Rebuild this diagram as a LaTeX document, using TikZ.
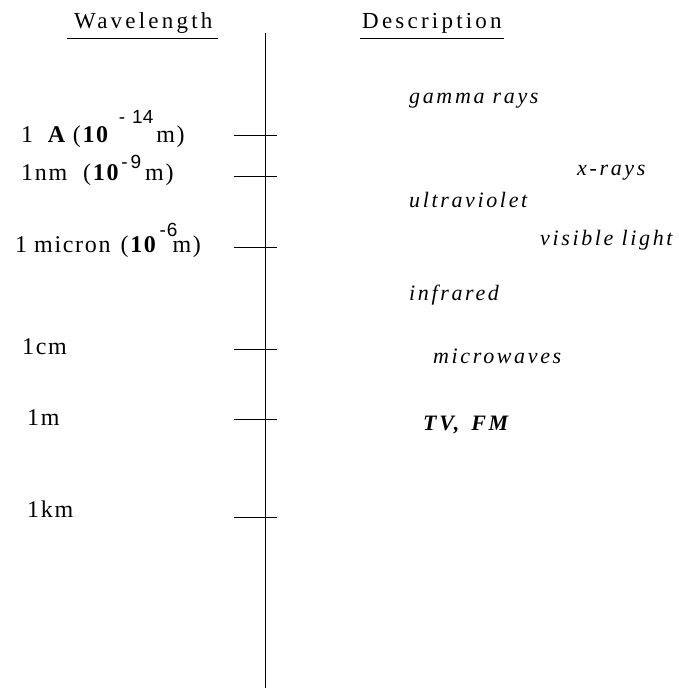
\documentclass[tikz,border=0pt]{standalone}
\usepackage{fontspec}
\setmainfont{Liberation Serif}
\setsansfont{Liberation Sans}
\newfontfamily\headfont{Liberation Serif}[LetterSpace=14]
\newfontfamily\labfont{Liberation Serif}[LetterSpace=7]
\newfontfamily\descfont{Liberation Serif}[LetterSpace=12]
\usetikzlibrary{positioning}
\tikzset{
  head/.style={font=\headfont\fontsize{23}{27}\selectfont,inner sep=0pt,anchor=base west},
  wlab/.style={font=\labfont\fontsize{24}{28}\selectfont,inner sep=0pt,anchor=base west},
  band/.style={font=\descfont\fontsize{22}{26}\selectfont\itshape,inner sep=0pt,anchor=base west},
  tick/.style={line width=0.9pt},
  axis/.style={line width=1.2pt}
}
\newcommand{\pw}[2]{\raisebox{#1}{\sffamily\fontsize{19}{19}\selectfont #2}}

\begin{document}
\begin{tikzpicture}[x=1pt,y=-1pt]
  \useasboundingbox (0,0) rectangle (679,688);

  % column heads
  \node[head] (wl) at (74,28) {Wavelength};
  \node[head] (desc) at (362,28) {Description};
  \draw[tick] ([shift={(-7pt,-10pt)}]wl.base west) -- ([shift={(5pt,-10pt)}]wl.base east);
  \draw[tick] ([shift={(-2pt,-10pt)}]desc.base west) -- ([shift={(2pt,-10pt)}]desc.base east);

  % the scale
  \coordinate (top) at (265.5,33);
  \coordinate (bottom) at (265.5,688);
  \draw[axis] (top) -- (bottom);
  \foreach \y [count=\i] in {135,176,247,349,419,517} {
    \coordinate (tick\i) at (265.5,\y);
    \draw[tick] ([xshift=-32pt]tick\i) -- ([xshift=11pt]tick\i);
  }

  % wavelengths
  \node[wlab] (ang) at (21,142)
    {1\hspace{13pt}\textbf{A}\hspace{6pt}(\textbf{10}\hspace{9pt}\pw{19pt}{-\hspace{7pt}14}\hspace{3pt}m)};
  \node[wlab] (nm) at (21,180)
    {1nm\hspace{16pt}(\textbf{10}\hspace{1pt}\pw{12pt}{-\hspace{3pt}9}\hspace{4pt}m)};
  \node[wlab] (mic) at (15,252)
    {1\hspace{7pt}micron\hspace{10pt}(\textbf{10}\hspace{2pt}\pw{16pt}{-\hspace{1pt}6}\hspace{-5pt}m)};
  \node[wlab] (cm) at (22,354) {1cm};
  \node[wlab] (m) at (27,425) {1m};
  \node[wlab] (km) at (27,517) {1km};

  % descriptions
  \node[band] (gam) at (409,103) {gamma rays};
  \node[band] (xr) at (577,175) {x-rays};
  \node[band] (uv) at (409,207) {ultraviolet};
  \node[band] (vis) at (540,245) {visible light};
  \node[band] (ir) at (409,300) {infrared};
  \node[band] (mw) at (433,363) {microwaves};
  \node[band,font=\descfont\fontsize{22}{26}\selectfont\bfseries\itshape] (tv) at (423,430) {TV,\hspace{12pt}FM};
\end{tikzpicture}
\end{document}
